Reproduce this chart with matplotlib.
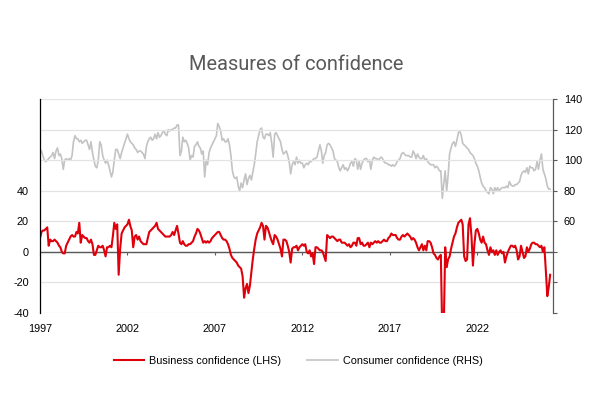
import matplotlib
matplotlib.use("Agg")
import matplotlib.pyplot as plt
import matplotlib.dates as mdates
import pandas as pd

# monthly readings, Jan 1997 onwards (one line per year)
business = [
    9, 13, 14, 14, 15, 16, 4, 8, 7, 7, 8, 7,          # 1997
    6, 4, 3, 0, -1, -1, 4, 6, 8, 10, 11, 10,          # 1998
    10, 13, 12, 19, 6, 11, 10, 9, 9, 7, 6, 8,         # 1999
    5, -2, -2, 1, 4, 3, 3, 4, 1, -3, 3, 3,            # 2000
    4, 3, 10, 19, 15, 18, -15, 2, 12, 14, 16, 17,     # 2001
    18, 21, 17, 14, 3, 10, 11, 8, 10, 7, 6, 5,        # 2002
    5, 5, 9, 13, 14, 15, 16, 17, 19, 15, 14, 13,      # 2003
    12, 11, 10, 10, 10, 10, 11, 13, 11, 14, 17, 12,   # 2004
    6, 5, 7, 5, 4, 4, 5, 5, 6, 7, 10, 12,             # 2005
    15, 14, 12, 9, 6, 7, 6, 7, 6, 7, 9, 10,           # 2006
    11, 12, 13, 13, 11, 9, 8, 8, 7, 5, 2, -2,         # 2007
    -4, -5, -6, -7, -9, -10, -11, -16, -30, -24, -21, -27,  # 2008
    -22, -13, -5, 2, 8, 12, 14, 16, 19, 17, 8, 17,    # 2009
    16, 13, 10, 7, 5, 11, 10, 8, 5, 2, -3, 8,         # 2010
    8, 7, 4, 0, -7, 2, 3, 3, 4, 1, 3, 4,              # 2011
    5, 4, 5, 0, -1, 1, -3, -1, -8, 3, 3, 2,           # 2012
    1, 1, 0, -3, -6, 11, 10, 9, 10, 10, 9, 8,         # 2013
    7, 8, 8, 6, 6, 6, 5, 4, 5, 3, 4, 6,               # 2014
    6, 4, 9, 9, 5, 6, 4, 4, 5, 6, 3, 6,               # 2015
    5, 6, 7, 6, 7, 6, 6, 7, 8, 7, 7, 9,               # 2016
    10, 12, 11, 11, 11, 9, 8, 8, 10, 11, 10, 11,      # 2017
    12, 11, 10, 8, 9, 8, 6, 3, 1, 3, 5, 1,            # 2018
    4, 1, 7, 7, 6, 3, -1, -2, -4, -5, -3, -2,         # 2019
    -55, -48, 3, -10, -5, -3, 2, 6, 10, 12, 16, 19,   # 2020
    20, 21, 18, -3, -6, -5, 18, 22, 10, -9, 5, 14,    # 2021
    15, 12, 8, 6, 10, 6, 5, 1, -2, 3, 0, 1,           # 2022
    -2, 1, -2, 0, 1, -1, 0, -7, -3, 0, 2, 4,          # 2023
    4, 3, 4, 1, -5, -3, 4, 0, -4, -3, 3, 0,           # 2024
    2, 5, 6, 6, 5, 5, 4, 3, 4, 0, 3, -12,             # 2025
    -29, -23, -15,                                    # 2026
]

consumer = [
    107, 106, 103, 100, 99, 100, 101, 102, 103, 105, 101, 106,   # 1997
    108, 103, 104, 101, 94, 100, 101, 100, 101, 100, 103, 112,   # 1998
    116, 114, 114, 112, 113, 111, 112, 113, 113, 110, 107, 112,  # 1999
    105, 100, 96, 95, 100, 112, 110, 103, 100, 98, 100, 97,      # 2000
    93, 89, 92, 100, 107, 107, 104, 101, 105, 108, 111, 114,     # 2001
    117, 114, 112, 111, 110, 108, 107, 105, 106, 106, 105, 104,  # 2002
    101, 109, 112, 114, 115, 113, 114, 117, 114, 118, 115, 116,  # 2003
    118, 119, 117, 116, 120, 119, 120, 120, 121, 121, 123, 123,  # 2004
    103, 106, 115, 112, 113, 111, 108, 100, 103, 102, 109, 110,  # 2005
    112, 109, 108, 104, 106, 89, 100, 97, 105, 108, 110, 112,    # 2006
    114, 116, 124, 122, 119, 113, 114, 112, 112, 114, 110, 103,  # 2007
    93, 89, 88, 89, 83, 80, 85, 82, 87, 91, 84, 88,              # 2008
    90, 87, 92, 97, 104, 112, 116, 120, 121, 115, 114, 117,      # 2009
    117, 116, 118, 111, 102, 117, 118, 116, 114, 112, 107, 104,  # 2010
    105, 106, 103, 99, 91, 97, 99, 97, 102, 98, 100, 98,         # 2011
    98, 95, 97, 98, 97, 99, 99, 100, 101, 101, 102, 106,         # 2012
    110, 106, 98, 103, 105, 110, 111, 110, 108, 106, 101, 100,   # 2013
    99, 95, 93, 95, 97, 94, 95, 93, 95, 98, 99, 96,              # 2014
    101, 100, 94, 99, 94, 98, 100, 101, 101, 99, 100, 94,        # 2015
    100, 102, 101, 101, 100, 101, 102, 101, 99, 98, 98, 97,      # 2016
    97, 96, 97, 96, 97, 99, 100, 101, 104, 105, 104, 103,        # 2017
    103, 103, 102, 102, 106, 104, 101, 104, 102, 101, 101, 103,  # 2018
    100, 101, 99, 98, 97, 97, 97, 95, 96, 95, 93, 93,            # 2019
    75, 85, 93, 80, 90, 104, 108, 111, 112, 109, 113, 118,       # 2020
    119, 116, 111, 110, 109, 108, 107, 105, 104, 103, 101, 98,   # 2021
    96, 93, 89, 85, 83, 82, 80, 79, 78, 82, 81, 78,              # 2022
    82, 80, 82, 80, 81, 82, 82, 82, 83, 82, 86, 84,              # 2023
    83, 83, 84, 84, 85, 86, 90, 92, 93, 92, 95, 91,              # 2024
    96, 95, 95, 93, 94, 99, 94, 100, 104, 94, 91, 88,            # 2025
    83, 81, 81,                                                  # 2026
]

start = "1997-01-01"
x_end = "2026-05-01"
year_ticks = ["1997", "2002", "2007", "2012", "2017", "2022"]
lhs_ticks = [-40, -20, 0, 20, 40, 60, 80, 100]
lhs_labels = ["-40", "-20", "0", "20", "40", "", "", ""]
rhs_ticks = [0, 20, 40, 60, 80, 100, 120, 140]
rhs_labels = ["", "", "", "60", "80", "100", "120", "140"]

dates_b = pd.date_range(start, periods=len(business), freq="MS")
dates_c = pd.date_range(start, periods=len(consumer), freq="MS")

tick_font = "Liberation Sans"
fs = 7.8

fig = plt.figure(figsize=(5.92, 4.2), dpi=100)
ax = fig.add_axes([0.0676, 0.2548, 0.8666, 0.5095])
ax2 = ax.twinx()

ax2.plot(dates_c, consumer, color="#c3c3c3", lw=1.2, label="Consumer confidence (RHS)")
ax.plot(dates_b, business, color="#e0000b", lw=1.5, label="Business confidence (LHS)")
ax.set_zorder(ax2.get_zorder() + 1)
ax.patch.set_visible(False)

ax.set_xlim(pd.Timestamp(start), pd.Timestamp(x_end))
ax.set_ylim(-40, 100)
ax2.set_ylim(0, 140)

ax.set_yticks(lhs_ticks)
ax.set_yticklabels(lhs_labels, fontsize=fs, family=tick_font)
ax.tick_params(axis="y", length=0, pad=8)
ax.grid(axis="y", color="#e3e3e3", lw=0.9)
ax.set_axisbelow(True)
ax.axhline(0, color="#595959", lw=1.0, zorder=1.5)

ax2.set_yticks(rhs_ticks)
ax2.set_yticklabels(rhs_labels, fontsize=fs, family=tick_font)
ax2.tick_params(axis="y", length=2.7, width=0.8, color="#595959", pad=5)

ax.set_xticks([pd.Timestamp(y + "-01-01") for y in year_ticks])
ax.xaxis.set_major_formatter(mdates.DateFormatter("%Y"))
ax.tick_params(axis="x", length=0, pad=8, labelsize=fs)
for lab in ax.get_xticklabels():
    lab.set_family(tick_font)

for a in (ax, ax2):
    a.spines["top"].set_visible(False)
    a.spines["bottom"].set_visible(False)
ax.spines["right"].set_visible(False)
ax.spines["left"].set_color("black")
ax.spines["left"].set_linewidth(0.9)
ax2.spines["left"].set_visible(False)
ax2.spines["right"].set_color("#595959")
ax2.spines["right"].set_linewidth(0.9)

# small year ticks hanging off the zero line
zero_frac = (0 - (-40)) / (100 - (-40))
zx = ax.secondary_xaxis(zero_frac)
zx.set_xticks([pd.Timestamp(y + "-01-01") for y in year_ticks])
zx.tick_params(axis="x", direction="out", length=2.5, width=0.8, color="#595959",
               labelbottom=False, labeltop=False)
zx.spines["bottom"].set_visible(False)
zx.spines["top"].set_visible(False)
zx.xaxis.set_ticks_position("bottom")
zx.set_xticklabels([])

fig.text(0.5, 0.846, "Measures of confidence", ha="center", va="center",
         fontsize=14.4, family="Roboto", color="#595959")

h1, l1 = ax.get_legend_handles_labels()
h2, l2 = ax2.get_legend_handles_labels()
fig.legend(h1 + h2, l1 + l2, loc="center", bbox_to_anchor=(0.504, 0.14), ncol=2,
           frameon=False, prop={"family": tick_font, "size": fs},
           handlelength=2.8, handletextpad=0.5, columnspacing=2.4)

fig.savefig("out.png", dpi=100)
